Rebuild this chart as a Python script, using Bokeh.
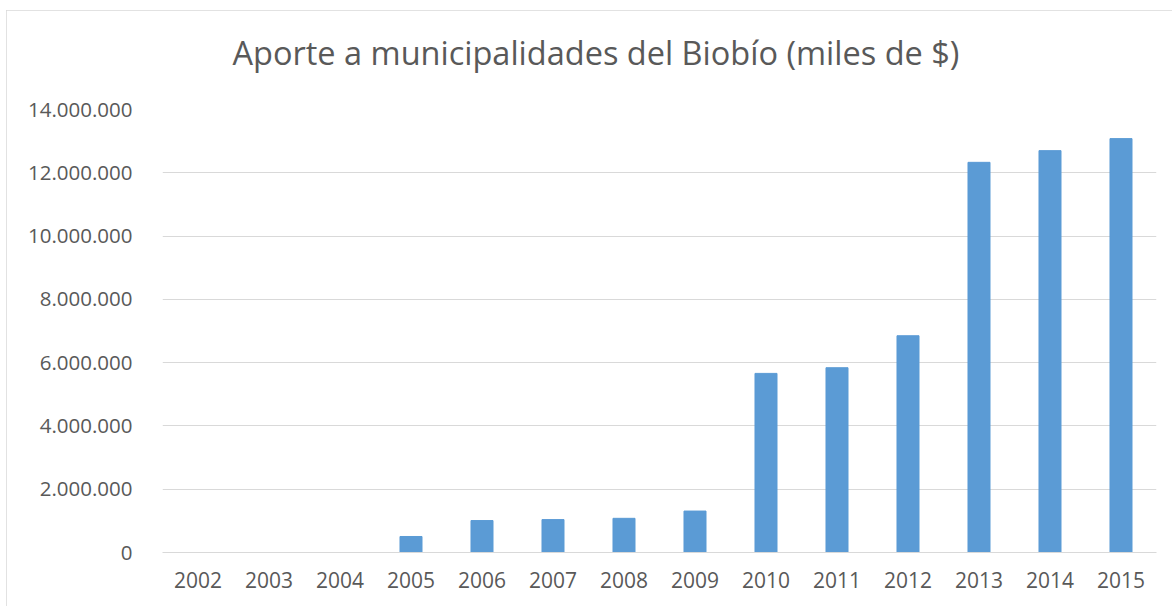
from bokeh.plotting import figure
from bokeh.models import FixedTicker, CustomJSTickFormatter, Title, ColumnDataSource, FactorRange, Range1d
from bokeh.embed import file_html
from bokeh.resources import INLINE

years = ["2002", "2003", "2004", "2005", "2006", "2007", "2008", "2009",
         "2010", "2011", "2012", "2013", "2014", "2015"]
aporte = [0, 0, 0, 506000, 1010000, 1040000, 1080000, 1310000,
          5660000, 5840000, 6850000, 12330000, 12700000, 13080000]
y_ticks = [0, 2000000, 4000000, 6000000, 8000000, 10000000, 12000000, 14000000]
title_text = "Aporte a municipalidades del Biobío (miles de $)"

TEXT = "#595959"
GRID = "#d9d9d9"
FONT = "Open Sans"

src = ColumnDataSource(data=dict(year=years, value=aporte))

p = figure(x_range=FactorRange(*years, range_padding=0), y_range=Range1d(0, 14000000),
           width=1166, height=596, output_backend="svg", toolbar_location=None, title=None,
           min_border_left=156, min_border_right=16, min_border_top=99, min_border_bottom=54)
p.margin = (10, 0, 0, 6)

# spacer between the plot frame and the title (keeps the title higher up)
p.add_layout(Title(text=" ", text_font_size="1px", standoff=22), "above")
p.add_layout(Title(text=title_text, align="left", offset=70, text_font=FONT,
                   text_font_size="32.5px", text_font_style="normal", text_color=TEXT,
                   standoff=20), "above")

p.vbar(x="year", top="value", width=0.31, source=src, fill_color="#5B9BD5", line_color="#5B9BD5")

p.outline_line_color = None
p.xgrid.grid_line_color = None
p.ygrid.grid_line_color = GRID
p.ygrid.grid_line_width = 1

p.yaxis.ticker = FixedTicker(ticks=y_ticks)
p.yaxis.formatter = CustomJSTickFormatter(code="""
return Math.round(tick).toString().replace(/\\B(?=(\\d{3})+(?!\\d))/g, '.');
""")
for ax in (p.xaxis, p.yaxis):
    ax.axis_line_color = None
    ax.major_tick_line_color = None
    ax.minor_tick_line_color = None
    ax.major_label_text_font = FONT
    ax.major_label_text_color = TEXT
p.yaxis.major_label_text_font_size = "20.5px"
p.xaxis.major_label_text_font_size = "21px"
p.xaxis.axis_line_color = GRID
p.yaxis.major_label_standoff = 24
p.xaxis.major_label_standoff = 13
p.styles = {"box-shadow": "inset 1px 1px 0 0 #d9d9d9"}

open("out.html", "w").write(file_html(p, INLINE))
